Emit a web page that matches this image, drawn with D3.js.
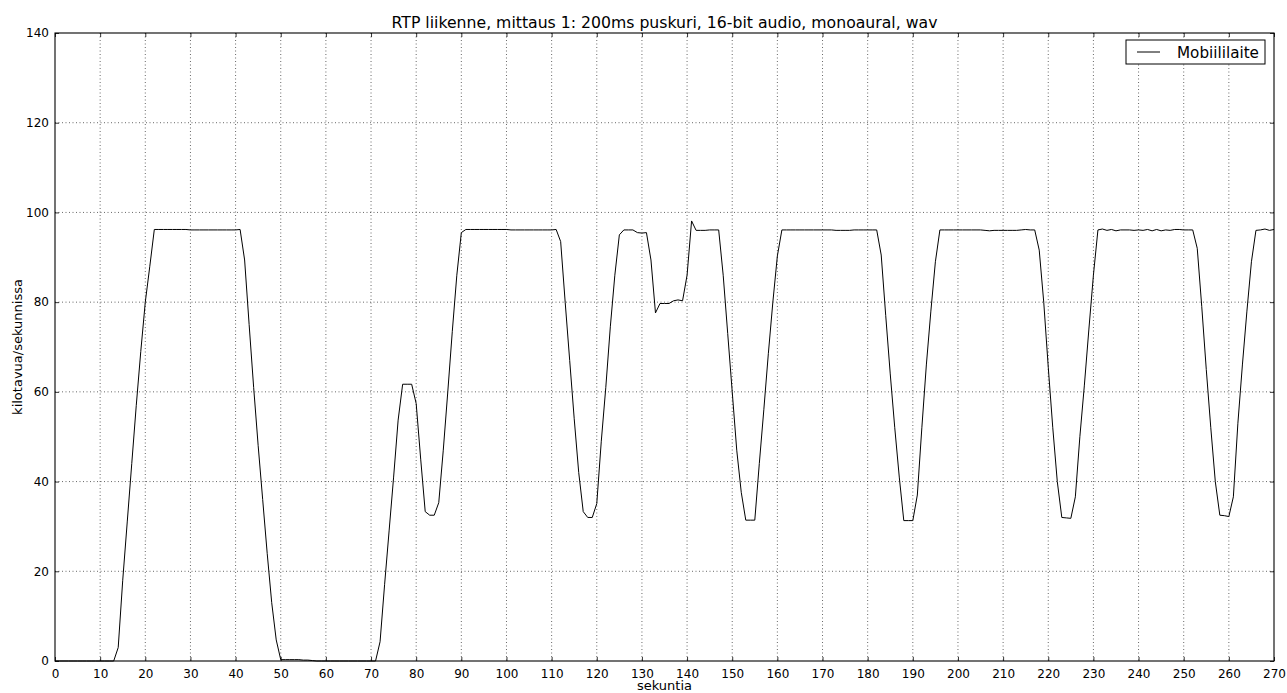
<!DOCTYPE html>
<html>
<head>
<meta charset="utf-8">
<script src="https://cdn.jsdelivr.net/npm/d3@7"></script>
<style>
  html, body { margin: 0; padding: 0; background: #fff; }
  svg { display: block; font-family: "DejaVu Sans", sans-serif; }
</style>
</head>
<body>
<svg id="chart" width="1287" height="693"></svg>
<script>
// RTP traffic, one sample per second (kB/s)
const seriesName = "Mobiililaite";
const kbps = [
  0, 0, 0, 0, 0, 0, 0, 0, 0, 0, 0, 0, 0, 0,            // 0-13
  3, 18, 31, 44, 57, 69, 80, 88,                       // 14-21
  96.2, 96.2, 96.2, 96.2, 96.2, 96.2, 96.2, 96.2, 96.1, 96.1,
  96.1, 96.1, 96.1, 96.1, 96.1, 96.1, 96.1, 96.1, 96.1, 96.2, // 22-41
  89.4, 75, 61, 48, 36, 24, 13, 4.7,                   // 42-49
  0.3, 0.3, 0.3, 0.3, 0.3, 0.2, 0.2, 0.1,              // 50-57
  0, 0, 0, 0, 0, 0, 0, 0, 0, 0, 0, 0, 0, 0,            // 58-71
  4.3, 17, 29, 41, 53.7, 61.7, 61.7, 61.7,             // 72-79
  57.4, 45, 33.3, 32.5, 32.5, 35.3, 47, 60, 73.5, 86,  // 80-89
  95.5, 96.2, 96.2, 96.2, 96.2, 96.2, 96.2, 96.2, 96.2, 96.2,
  96.2, 96.1, 96.1, 96.1, 96.1, 96.1, 96.1, 96.1, 96.1, 96.1,
  96.1, 96.2,                                          // 90-111
  93.5, 80, 67, 54, 42, 33.3, 32, 32, 35.1,            // 112-120
  49, 61, 74.5, 86, 95, 96.1, 96.1, 96.1, 95.5, 95.4,  // 121-130
  95.5, 89.4, 77.6, 79.7, 79.7, 79.7, 80.3, 80.5, 80.3, 86, // 131-140
  98.1, 96, 96, 96, 96.1, 96.1, 96.1,                  // 141-147
  86, 73, 60, 47, 37.6, 31.4, 31.4, 31.4,              // 148-155
  44, 56, 68.5, 80, 90.3,                              // 156-160
  96.1, 96.1, 96.1, 96.1, 96.1, 96.1, 96.1, 96.1, 96.1, 96.1,
  96.1, 96.1, 96.0, 96.0, 96.0, 96.0, 96.1, 96.1, 96.1, 96.1,
  96.1, 96.1,                                          // 161-182
  90.5, 77, 64, 52, 41, 31.3, 31.3, 31.3,              // 183-190
  37, 52, 66, 78, 89,                                  // 191-195
  96.1, 96.1, 96.1, 96.1, 96.1, 96.1, 96.1, 96.1, 96.1, 96.1,
  96.0, 95.9, 96.0, 96.0, 96.0, 96.0, 96.0, 96.0, 96.1, 96.2,
  96.1, 96.1,                                          // 196-217
  91.6, 80, 65.5, 52, 40, 32, 31.9, 31.8,              // 218-225
  36.6, 50, 61.5, 74, 86,                              // 226-230
  96.1, 96.3, 96.0, 96.2, 95.9, 96.1, 96.1, 96.1, 96.0, 96.1,
  96.0, 96.2, 95.9, 96.2, 95.9, 96.1, 96.0, 96.2, 96.2, 96.1,
  96.1, 96.1,                                          // 231-252
  92, 79, 65, 52, 40, 32.5, 32.4, 32.2,                // 253-260
  36.6, 53, 66, 78, 89,                                // 261-265
  96, 96.1, 96.3, 96, 96.2                             // 266-270
];
const seconds = d3.range(kbps.length);
const xTicks = d3.range(0, 271, 10);
const yTicks = d3.range(0, 141, 20);

const titleText = "RTP liikenne, mittaus 1: 200ms puskuri, 16-bit audio, monoaural, wav";
const xLabel = "sekuntia";
const yLabel = "kilotavua/sekunnissa";

const margin = { left: 55, right: 13, top: 33, bottom: 32 };
const W = 1287, H = 693;
const innerW = W - margin.left - margin.right;
const innerH = H - margin.top - margin.bottom;

const svg = d3.select("#chart");
const g = svg.append("g").attr("transform", `translate(${margin.left},${margin.top})`);

const x = d3.scaleLinear().domain([0, 270]).range([0, innerW]);
const y = d3.scaleLinear().domain([0, 140]).range([innerH, 0]);

// dotted grid
const grid = g.append("g").attr("stroke", "#000").attr("stroke-width", 0.6)
  .attr("stroke-dasharray", "1,2.5");
grid.selectAll(".vg").data(xTicks.slice(1, -1)).enter().append("line")
  .attr("x1", d => x(d)).attr("x2", d => x(d)).attr("y1", 0).attr("y2", innerH);
grid.selectAll(".hg").data(yTicks.slice(1, -1)).enter().append("line")
  .attr("x1", 0).attr("x2", innerW).attr("y1", d => y(d)).attr("y2", d => y(d));

// data line
const line = d3.line().x((d, i) => x(seconds[i])).y(d => y(d));
g.append("path").datum(kbps)
  .attr("fill", "none").attr("stroke", "#000").attr("stroke-width", 1)
  .attr("stroke-linejoin", "round")
  .attr("d", line);

// axes with inward ticks on all four sides
const tickLen = 4;
const styleAxis = sel => {
  sel.select(".domain").remove();
  sel.selectAll("line").attr("stroke", "#000").attr("stroke-width", 0.8);
  sel.selectAll("text").attr("fill", "#000").attr("font-size", "12px")
    .attr("font-family", "DejaVu Sans, sans-serif");
};
g.append("g").attr("transform", `translate(0,${innerH})`)
  .call(d3.axisBottom(x).tickValues(xTicks).tickFormat(d3.format("d"))
    .tickSizeInner(-tickLen).tickSizeOuter(0).tickPadding(8))
  .call(styleAxis);
g.append("g")
  .call(d3.axisLeft(y).tickValues(yTicks).tickFormat(d3.format("d"))
    .tickSizeInner(-tickLen).tickSizeOuter(0).tickPadding(6))
  .call(styleAxis);
g.append("g")
  .call(d3.axisTop(x).tickValues(xTicks).tickFormat("")
    .tickSizeInner(-tickLen).tickSizeOuter(0))
  .call(styleAxis);
g.append("g").attr("transform", `translate(${innerW},0)`)
  .call(d3.axisRight(y).tickValues(yTicks).tickFormat("")
    .tickSizeInner(-tickLen).tickSizeOuter(0))
  .call(styleAxis);

// frame
g.append("rect").attr("x", 0).attr("y", 0).attr("width", innerW).attr("height", innerH)
  .attr("fill", "none").attr("stroke", "#000").attr("stroke-width", 1.1);

// titles
svg.append("text").attr("x", margin.left + innerW / 2).attr("y", 28)
  .attr("text-anchor", "middle").attr("font-size", "15.7px").attr("fill", "#000")
  .text(titleText);
svg.append("text").attr("x", margin.left + innerW / 2).attr("y", 690)
  .attr("text-anchor", "middle").attr("font-size", "13px").attr("fill", "#000")
  .text(xLabel);
svg.append("text").attr("transform", `translate(22,${margin.top + innerH / 2}) rotate(-90)`)
  .attr("text-anchor", "middle").attr("font-size", "13px").attr("fill", "#000")
  .text(yLabel);

// legend
const lg = svg.append("g").attr("transform", "translate(1126,40)");
lg.append("rect").attr("width", 139).attr("height", 24)
  .attr("fill", "#fff").attr("stroke", "#000").attr("stroke-width", 1);
lg.append("line").attr("x1", 11).attr("x2", 34).attr("y1", 12).attr("y2", 12)
  .attr("stroke", "#000").attr("stroke-width", 1);
lg.append("text").attr("x", 51).attr("y", 17.5).attr("font-size", "15.2px").attr("fill", "#000")
  .text(seriesName);
</script>
</body>
</html>
